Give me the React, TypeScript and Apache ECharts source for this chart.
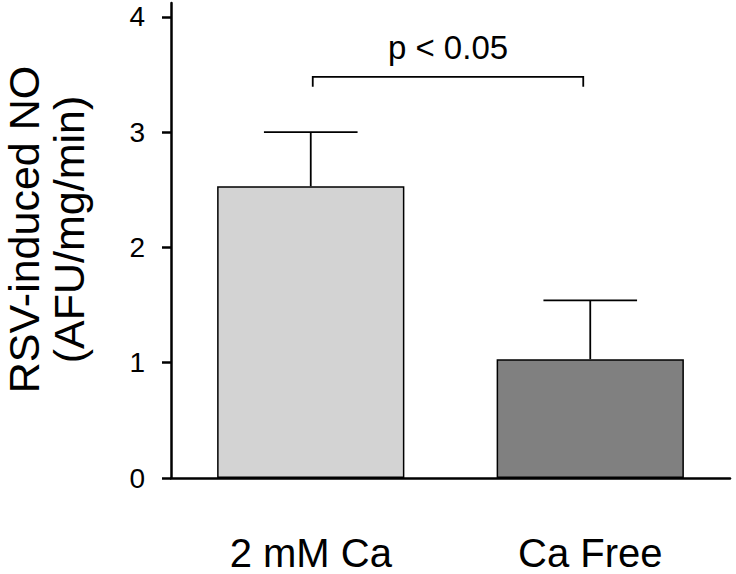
import React, { useEffect, useRef } from "react";
import * as echarts from "echarts";

const categories = ["2 mM Ca", "Ca Free"];
const means = [2.53, 1.03];
const errors = [0.47, 0.51];
const barColors = ["#d3d3d3", "#808080"];
const yTicks = [0, 1, 2, 3, 4];
const bracketLevel = 3.48;
const bracketDrop = 0.087;
const pLabel = "p < 0.05";

export default function App() {
  const ref = useRef<HTMLDivElement>(null);
  useEffect(() => {
    if (!ref.current) return;
    const chart = echarts.init(ref.current, null, { renderer: "svg" });
    const font = "Liberation Sans";
    chart.setOption({
      animation: false,
      grid: { left: 171, right: 6, top: 3, bottom: 96, containLabel: false, outerBoundsMode: "none" },
      xAxis: {
        type: "category",
        data: categories,
        axisLine: { lineStyle: { color: "#000", width: 2.5 } },
        axisTick: { alignWithLabel: true, length: 9, lineStyle: { color: "#000", width: 2.5 } },
        axisLabel: { color: "#000", fontSize: 40, fontFamily: font, margin: 55 },
      },
      yAxis: {
        type: "value",
        min: 0,
        max: 4.12,
        interval: 1,
        splitLine: { show: false },
        axisLine: { show: true, lineStyle: { color: "#000", width: 2.5 } },
        axisTick: { show: true, length: 9, customValues: yTicks, lineStyle: { color: "#000", width: 2.5 } },
        axisLabel: { color: "#000", fontSize: 28, fontFamily: font, margin: 26, customValues: yTicks },
        name: "RSV-induced NO\n(AFU/mg/min)",
        nameLocation: "middle",
        nameGap: 80,
        nameTextStyle: { color: "#000", fontSize: 43, fontFamily: font, lineHeight: 45, padding: [0, 0, 0, 22] },
      },
      series: [
        {
          type: "bar",
          barWidth: "67%",
          data: means.map((v, i) => ({
            value: v,
            itemStyle: { color: barColors[i], borderColor: "#000", borderWidth: 1.5 },
          })),
          z: 2,
        },
        {
          type: "custom",
          z: 1,
          data: means.map((m, i) => [i, m, m + errors[i]]),
          renderItem: (params: any, api: any) => {
            const x = api.value(0);
            const lo = api.coord([x, api.value(1)]);
            const hi = api.coord([x, api.value(2)]);
            const w = api.size([1, 0])[0] * 0.335 * 0.5;
            return {
              type: "group",
              children: [
                { type: "line", shape: { x1: lo[0], y1: lo[1], x2: hi[0], y2: hi[1] }, style: { stroke: "#000", lineWidth: 1.8 } },
                { type: "line", shape: { x1: hi[0] - w, y1: hi[1], x2: hi[0] + w, y2: hi[1] }, style: { stroke: "#000", lineWidth: 1.8 } },
              ],
            };
          },
        },
        {
          type: "custom",
          z: 3,
          data: [[0, 1, bracketLevel]],
          renderItem: (params: any, api: any) => {
            const a = api.coord([api.value(0), api.value(2)]);
            const b = api.coord([api.value(1), api.value(2)]);
            const d = api.coord([api.value(0), api.value(2) - bracketDrop]);
            const dy = d[1] - a[1];
            const x1 = a[0] + 2;
            const x2 = b[0] - 7;
            return {
              type: "group",
              children: [
                {
                  type: "polyline",
                  shape: { points: [[x1, a[1] + dy], [x1, a[1]], [x2, a[1]], [x2, a[1] + dy]] },
                  style: { stroke: "#000", lineWidth: 1.8, fill: "none" },
                },
                {
                  type: "text",
                  x: (x1 + x2) / 2,
                  y: a[1] - 13,
                  style: {
                    text: pLabel,
                    fontSize: 33,
                    fontFamily: font,
                    fill: "#000",
                    align: "center",
                    verticalAlign: "bottom",
                  },
                },
              ],
            };
          },
        },
      ],
    });
    return () => chart.dispose();
  }, []);
  return <div ref={ref} style={{ width: 736, height: 574, position: "absolute", left: 0, top: 0 }} />;
}
